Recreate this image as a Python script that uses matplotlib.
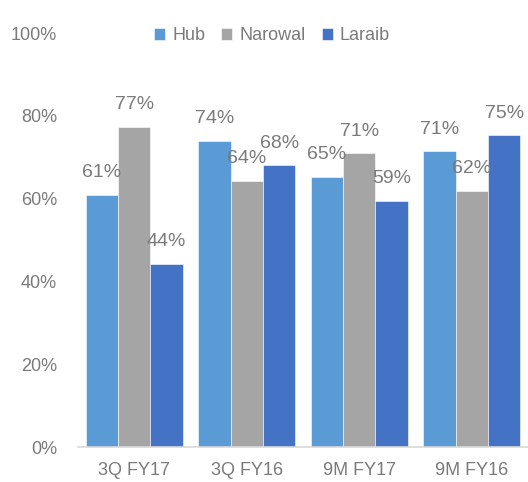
import numpy as np
import matplotlib
matplotlib.use("Agg")
import matplotlib.pyplot as plt

# Chart data
periods = ["3Q FY17", "3Q FY16", "9M FY17", "9M FY16"]
hub = [60.9, 73.9, 65.2, 71.4]
narowal = [77.3, 64.2, 70.9, 61.8]
laraib = [44.3, 68.0, 59.4, 75.3]
series_names = ["Hub", "Narowal", "Laraib"]
series_colors = ["#5B9BD5", "#A5A5A5", "#4472C4"]
y_ticks = [0, 20, 40, 60, 80, 100]

text_color = "#7a7a7a"
plt.rcParams["font.family"] = ["Liberation Sans", "DejaVu Sans"]
plt.rcParams["font.size"] = 13

fig = plt.figure(figsize=(5.28, 4.82), dpi=100)
ax = fig.add_axes([78 / 528, 1 - 447 / 482, 1 - 78 / 528, (447 - 33) / 482])

x = np.arange(len(periods))
width = 0.288
handles = []
for i, (name, vals, col) in enumerate(zip(series_names, [hub, narowal, laraib], series_colors)):
    pos = x + (i - 1) * width
    bars = ax.bar(pos, vals, width, color=col, label=name, edgecolor="white", linewidth=0.4)
    handles.append(bars)
    for p, v in zip(pos, vals):
        ax.annotate(f"{v:.0f}%", (p, v), xytext=(0, 16), textcoords="offset points",
                    ha="center", va="center", color=text_color, fontsize=14)

ax.set_xlim(-0.5, len(periods) - 0.5)
ax.set_ylim(0, 100)
ax.set_yticks(y_ticks)
ax.set_yticklabels([f"{t}%" for t in y_ticks])
ax.set_xticks(x)
ax.set_xticklabels(periods)
ax.tick_params(axis="both", length=0, colors=text_color, labelsize=13)
ax.tick_params(axis="x", pad=11)
ax.tick_params(axis="y", pad=15)
for s in ["top", "right", "left"]:
    ax.spines[s].set_visible(False)
ax.spines["bottom"].set_color("#d9d9d9")
ax.spines["bottom"].set_linewidth(1.2)

fig.legend(handles=handles, labels=series_names, loc="center",
           bbox_to_anchor=(272 / 528, 1 - 36 / 482), ncol=3, frameon=False,
           handlelength=0.6, handleheight=0.6, handletextpad=0.4, columnspacing=0.9,
           labelcolor=text_color, fontsize=13)

fig.savefig("out.png", dpi=100)
